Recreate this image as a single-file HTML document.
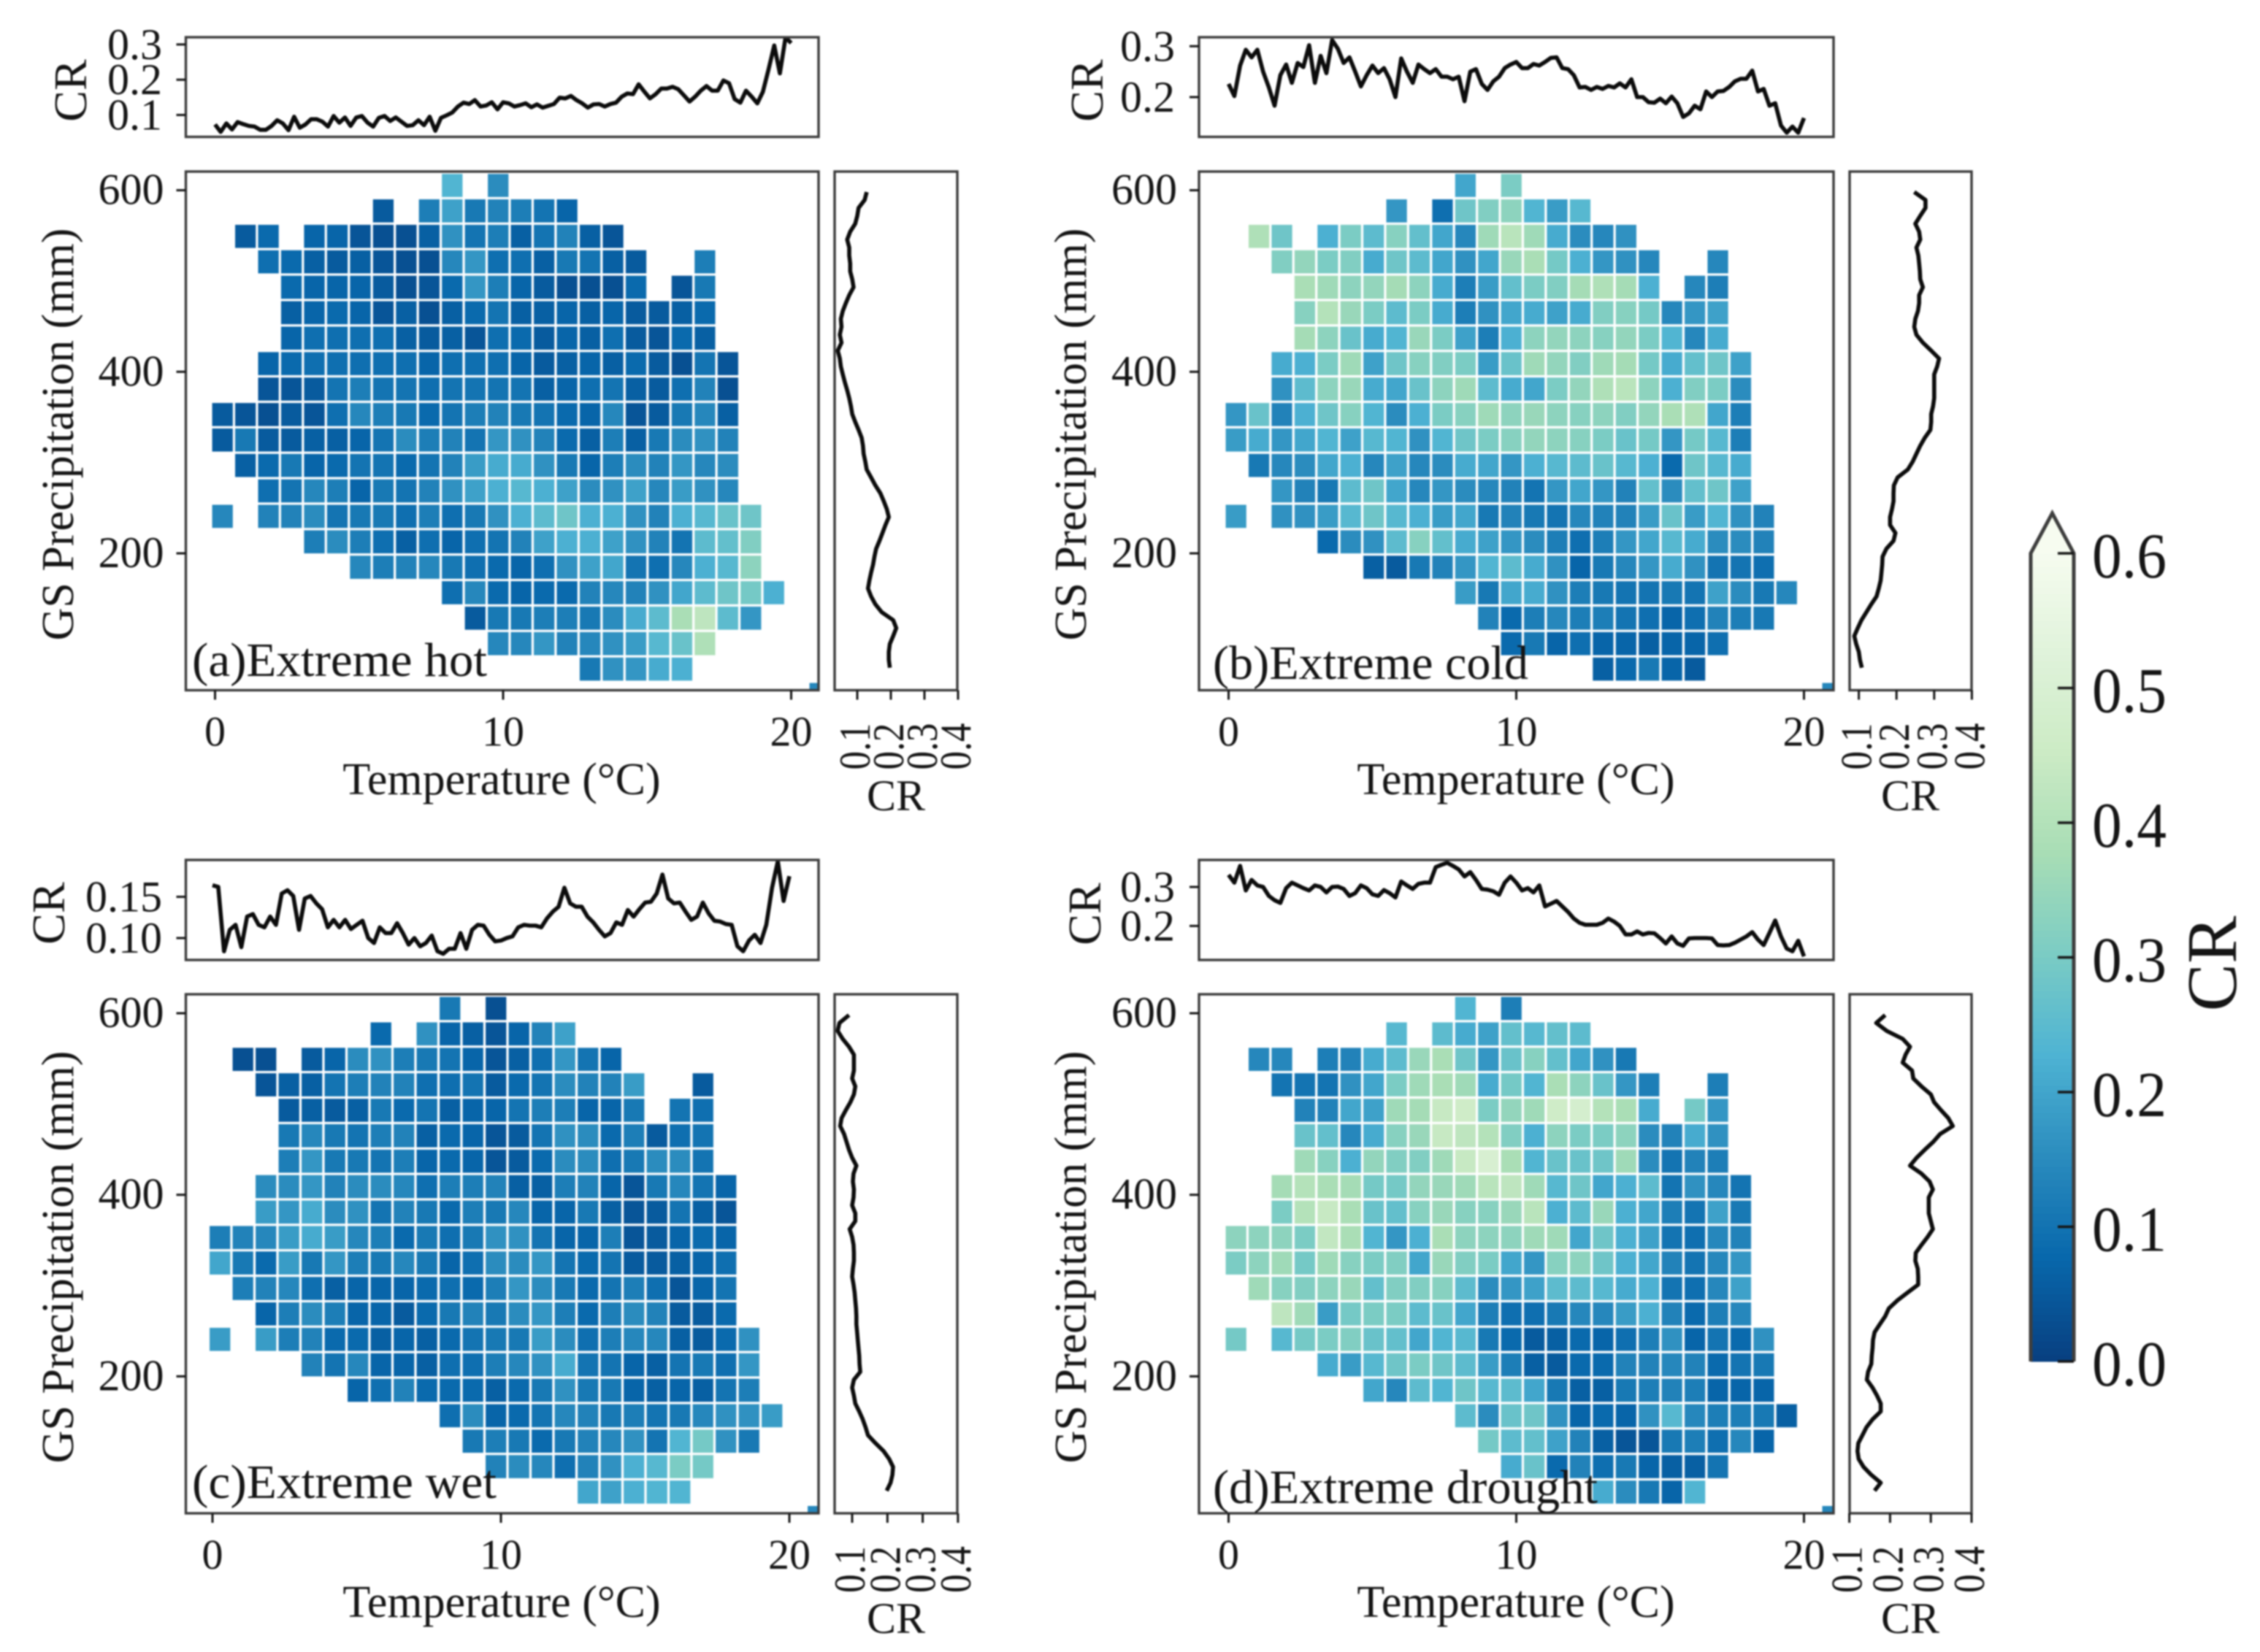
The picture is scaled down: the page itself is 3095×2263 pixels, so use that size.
<!DOCTYPE html>
<html lang="en">
<head>
<meta charset="utf-8">
<title>CR heatmaps under climate extremes</title>
<style>
html,body{margin:0;padding:0;background:#fff;}
svg{display:block;filter:blur(1.1px);}
text{font-family:"Liberation Serif",serif;fill:#151515;}
</style>
</head>
<body>
<svg id="figure" xmlns="http://www.w3.org/2000/svg" width="3095" height="2263" viewBox="0 0 3095 2263">
  <rect width="3095" height="2263" fill="#ffffff"/>
  <g id="panel-a">
    <g id="marks-a"></g>
    <text x="263" y="926" font-size="66" textLength="404" lengthAdjust="spacingAndGlyphs">(a)Extreme hot</text>
    <text x="687" y="1088" font-size="62" text-anchor="middle">Temperature (°C)</text>
    <text transform="translate(100,595) rotate(-90)" font-size="62" text-anchor="middle">GS Precipitation (mm)</text>
    <text transform="translate(118,124) rotate(-90)" font-size="64" text-anchor="middle">CR</text>
    <text x="1227" y="1110" font-size="60" text-anchor="middle">CR</text>
  </g>
  <g id="panel-b">
    <g id="marks-b"></g>
    <text x="1661" y="930" font-size="66" textLength="432" lengthAdjust="spacingAndGlyphs">(b)Extreme cold</text>
    <text x="2076" y="1088" font-size="62" text-anchor="middle">Temperature (°C)</text>
    <text transform="translate(1487,595) rotate(-90)" font-size="62" text-anchor="middle">GS Precipitation (mm)</text>
    <text transform="translate(1510,124) rotate(-90)" font-size="64" text-anchor="middle">CR</text>
    <text x="2616" y="1110" font-size="60" text-anchor="middle">CR</text>
  </g>
  <g id="panel-c">
    <g id="marks-c"></g>
    <text x="263" y="2052" font-size="66" textLength="417" lengthAdjust="spacingAndGlyphs">(c)Extreme wet</text>
    <text x="687" y="2215" font-size="62" text-anchor="middle">Temperature (°C)</text>
    <text transform="translate(100,1722) rotate(-90)" font-size="62" text-anchor="middle">GS Precipitation (mm)</text>
    <text transform="translate(88,1251) rotate(-90)" font-size="64" text-anchor="middle">CR</text>
    <text x="1227" y="2237" font-size="60" text-anchor="middle">CR</text>
  </g>
  <g id="panel-d">
    <g id="marks-d"></g>
    <text x="1661" y="2059" font-size="66" textLength="527" lengthAdjust="spacingAndGlyphs">(d)Extreme drought</text>
    <text x="2076" y="2215" font-size="62" text-anchor="middle">Temperature (°C)</text>
    <text transform="translate(1487,1722) rotate(-90)" font-size="62" text-anchor="middle">GS Precipitation (mm)</text>
    <text transform="translate(1507,1252) rotate(-90)" font-size="64" text-anchor="middle">CR</text>
    <text x="2616" y="2237" font-size="60" text-anchor="middle">CR</text>
  </g>
  <g id="colorbar">
    <g id="colorbar-marks"></g>
    <text transform="translate(3062,1320) rotate(-90)" font-size="98" text-anchor="middle">CR</text>
  </g>
</svg>
<script>
/* ---------- data: values ---------- */
const gnbuStops = ['#084081','#0868ac','#2b8cbe','#4eb3d3','#7bccc4','#a8ddb5','#ccebc5','#e0f3db','#f7fcf0'];
const colorMax = 0.6;
const colorbarTicks = ['0.0','0.1','0.2','0.3','0.4','0.5','0.6'];
const tempTicks = [0,10,20];
const precipTicks = [200,400,600];
const rightTicks = ['0.1','0.2','0.3','0.4'];
const topTicksA = ['0.1','0.2','0.3'];
const topTicksB = ['0.2','0.3'];
const topTicksC = ['0.10','0.15'];
const topTicksD = ['0.2','0.3'];

/* first temperature-bin index in each precipitation row */
const rowStart = [10,7,1,2,3,3,3,2,2,0,0,1,2,0,4,6,10,11,12,16,26];

/* CR x 100 per bin; 0 means an empty bin */
const heatA = [
[23,0,15],
[5,0,12,19,11,13,12,10,7],
[5,8,0,7,7,4,3,3,6,16,10,12,6,10,13,6,4],
[9,8,6,5,6,4,3,3,14,17,9,9,6,11,10,6,5,0,0,12],
[8,7,7,7,5,3,4,8,17,12,7,5,3,3,3,8,0,4,11],
[6,7,8,7,4,6,3,6,8,10,6,6,7,6,7,5,5,6,8],
[7,9,9,9,9,6,5,6,4,9,8,5,7,6,9,5,4,8,6],
[7,8,9,9,9,9,9,7,9,9,9,7,5,6,7,6,8,5,3,10,4],
[4,4,5,10,12,10,10,9,10,10,10,10,6,7,9,10,6,5,9,13,3],
[5,4,3,5,4,9,14,12,11,8,10,12,13,11,10,8,7,14,4,5,11,14,6],
[5,11,5,5,6,6,7,10,15,12,13,10,17,16,13,8,6,12,6,11,15,16,13],
[6,8,11,7,8,10,10,8,10,13,18,21,21,16,11,7,12,15,13,17,14,15],
[9,10,14,12,7,11,10,13,16,19,22,24,22,19,15,16,19,14,18,16,14],
[14,0,13,13,15,10,11,11,9,12,9,11,16,22,25,28,22,22,16,13,22,24,27,28],
[12,15,12,9,6,9,7,9,10,13,19,22,22,19,16,13,10,25,26,31],
[14,12,13,14,11,9,8,7,9,16,19,20,10,9,14,22,24,33],
[9,14,8,7,8,8,13,14,13,16,20,25,28,29,22],
[5,11,11,12,12,11,15,21,25,38,42,25,17],
[14,14,17,13,14,16,18,24,27,39],
[11,16,17,21,22],
[14]
];
const heatB = [
[20,0,30],
[17,0,9,28,31,33,23,18,24],
[39,28,0,22,30,25,32,26,20,14,36,41,36,21,15,14,16],
[31,34,30,31,21,28,25,20,16,20,35,38,29,22,17,16,14,0,0,14],
[38,36,33,34,37,33,21,12,18,26,30,31,37,39,37,22,0,14,12],
[32,40,35,30,25,30,21,12,16,20,21,19,21,31,32,29,14,17,19],
[37,33,27,21,23,35,30,19,12,22,33,34,33,32,34,30,23,14,21],
[21,22,30,36,19,28,32,31,30,18,27,36,34,31,36,37,29,21,26,28,19],
[16,25,33,35,21,20,27,33,36,25,21,20,30,34,39,41,33,22,31,30,15],
[17,27,13,22,28,32,23,15,22,30,32,36,33,35,33,32,33,31,34,38,39,20,12],
[18,21,17,20,23,19,24,23,16,23,28,30,32,34,33,32,30,27,29,17,29,24,12],
[11,14,15,20,22,14,19,14,15,21,20,17,22,24,25,27,24,22,8,28,24,21],
[17,13,11,25,28,20,14,17,15,14,13,10,17,20,17,13,26,15,26,28,19],
[18,0,16,16,18,24,28,24,22,18,20,11,13,11,10,14,13,13,18,27,18,23,16,13],
[8,15,16,25,32,26,21,19,17,15,12,9,12,17,20,24,21,15,15,13],
[6,5,11,13,17,23,25,21,16,7,11,14,17,21,16,10,10,9],
[18,11,20,21,16,12,11,10,10,11,10,19,15,11,14],
[13,8,12,14,12,12,10,9,7,9,13,12,11],
[8,11,7,9,7,7,6,7,7,9],
[6,8,11,7,5],
[14]
];
const heatC = [
[11,0,3],
[8,0,16,7,6,4,7,13,19],
[3,3,0,5,7,15,16,12,11,10,7,4,6,9,17,10,7],
[4,6,6,10,12,13,13,9,9,10,5,8,10,15,13,13,18,0,0,5],
[5,6,5,6,11,8,10,6,7,7,10,12,12,7,7,11,0,10,9],
[11,14,11,10,12,13,6,8,7,4,5,10,16,15,8,12,5,9,10],
[12,17,11,11,10,12,7,8,7,4,5,8,15,15,9,11,15,15,10],
[15,15,17,13,15,15,14,9,12,12,13,6,6,12,13,7,4,11,14,10,7],
[18,17,21,15,16,10,13,11,8,12,11,14,7,7,11,6,4,5,10,6,4],
[12,13,14,18,21,18,14,12,8,11,9,11,16,16,10,7,7,12,4,5,7,8,7],
[20,11,8,18,11,17,12,11,14,11,7,9,15,15,17,10,8,10,5,5,6,7,9],
[12,13,14,9,6,7,7,7,8,9,8,12,17,15,11,8,10,12,9,4,7,10],
[7,12,15,12,7,7,5,8,11,13,11,15,17,12,8,12,15,13,5,5,8],
[18,0,18,12,13,8,8,6,7,6,8,10,11,11,18,15,9,12,14,14,6,5,8,16],
[13,10,14,7,7,6,9,9,12,14,16,21,10,10,7,6,10,11,9,17],
[7,9,13,8,8,8,6,8,11,16,11,11,7,6,7,6,10,12],
[9,15,7,8,10,14,13,11,12,10,11,14,16,16,18],
[11,12,11,8,11,13,14,16,10,23,29,16,11],
[13,15,14,9,13,16,22,24,30,29],
[20,19,22,23,23],
[14]
];
const heatD = [
[23,0,12],
[24,0,25,21,19,26,24,26,25],
[14,14,0,12,13,21,25,35,38,28,17,27,32,26,20,16,11],
[10,10,10,16,20,30,36,38,36,21,29,23,38,33,27,17,12,0,0,12],
[13,13,20,19,36,37,44,46,30,34,36,46,48,40,38,21,0,29,17],
[27,26,14,21,32,35,44,42,40,31,22,33,30,30,33,15,13,21,16],
[36,32,22,34,31,31,36,44,49,38,23,27,27,28,36,15,10,13,12],
[37,40,38,37,29,29,34,35,36,41,42,36,24,28,20,22,25,10,16,14,10],
[30,40,44,38,27,26,32,35,32,32,35,41,22,25,35,22,20,12,10,19,11],
[33,33,33,30,43,38,23,17,22,38,33,33,33,36,36,20,28,22,19,10,9,14,13],
[30,33,36,29,36,32,30,31,20,35,31,30,20,17,32,33,28,22,20,13,10,14,17],
[36,32,31,33,35,26,31,31,32,25,15,17,19,25,25,24,21,22,10,9,14,19],
[42,36,18,29,30,30,25,27,20,12,9,9,11,14,14,18,22,13,8,12,14],
[29,0,24,29,30,31,27,26,20,23,24,11,8,5,6,8,7,9,12,16,7,10,8,16],
[21,18,24,28,30,28,25,18,12,6,5,8,8,13,13,14,13,8,10,11],
[20,14,25,23,28,24,25,20,11,6,6,11,12,13,12,7,7,7],
[25,15,27,28,16,7,8,7,16,24,14,12,12,11,6],
[29,25,26,19,13,6,4,4,11,12,9,14,7],
[21,27,8,13,9,11,7,6,6,10],
[21,15,11,7,23],
[14]
];

/* mean CR along temperature (evenly spaced 0-20 degC) */
const topCrA = [.073,.052,.076,.059,.08,.074,.069,.067,.058,.058,.069,.085,.076,.057,.095,.064,.073,.088,.088,.081,.067,.097,.078,.093,.069,.093,.097,.078,.067,.092,.097,.083,.093,.081,.069,.071,.085,.071,.095,.055,.092,.099,.107,.124,.135,.131,.142,.124,.127,.136,.116,.136,.133,.124,.128,.133,.122,.13,.121,.126,.131,.149,.147,.154,.142,.133,.121,.13,.131,.124,.131,.135,.152,.161,.159,.187,.166,.147,.159,.175,.175,.18,.173,.156,.138,.152,.169,.182,.169,.169,.198,.19,.145,.135,.169,.152,.133,.166,.23,.297,.218,.32,.304];
const topCrB = [.226,.202,.262,.293,.278,.293,.25,.219,.183,.243,.264,.228,.267,.259,.302,.228,.281,.247,.312,.295,.267,.278,.25,.221,.243,.262,.247,.257,.235,.2,.276,.25,.228,.264,.255,.247,.255,.24,.24,.235,.24,.192,.25,.255,.226,.214,.231,.24,.257,.264,.269,.257,.257,.265,.262,.269,.277,.278,.257,.255,.243,.219,.22,.214,.22,.216,.222,.219,.227,.219,.235,.2,.2,.19,.189,.197,.188,.201,.188,.161,.168,.183,.176,.211,.2,.211,.212,.22,.231,.236,.236,.252,.211,.216,.183,.188,.144,.13,.142,.13,.159];
const topCrC = [.164,.162,.084,.11,.116,.089,.126,.129,.116,.113,.126,.116,.154,.158,.151,.11,.148,.151,.142,.135,.113,.122,.113,.122,.111,.116,.121,.10,.094,.113,.106,.106,.118,.106,.092,.10,.09,.094,.103,.084,.081,.087,.087,.106,.087,.11,.116,.115,.104,.096,.097,.10,.102,.113,.116,.115,.115,.113,.124,.132,.138,.161,.142,.138,.138,.126,.119,.11,.102,.106,.119,.116,.134,.126,.135,.143,.144,.154,.177,.148,.142,.143,.132,.122,.126,.143,.13,.121,.12,.117,.116,.09,.084,.097,.104,.094,.116,.161,.193,.145,.175];
const topCrD = [.331,.311,.354,.291,.318,.304,.3,.277,.266,.259,.297,.311,.304,.297,.291,.304,.3,.286,.3,.301,.295,.277,.284,.304,.297,.281,.277,.292,.284,.273,.314,.304,.295,.308,.311,.311,.351,.357,.362,.354,.345,.327,.338,.318,.295,.293,.289,.28,.311,.327,.311,.291,.297,.286,.304,.25,.257,.264,.25,.236,.219,.208,.203,.203,.203,.208,.219,.211,.2,.178,.178,.186,.178,.182,.181,.169,.155,.173,.155,.149,.168,.169,.169,.169,.168,.151,.15,.151,.157,.165,.173,.184,.165,.151,.182,.214,.173,.142,.135,.162,.122];

/* mean CR along precipitation (evenly spaced, 598 down to 74 mm) */
const rightCrA = [.128,.122,.104,.1,.094,.079,.07,.076,.076,.079,.079,.085,.089,.076,.066,.057,.051,.053,.048,.053,.042,.048,.051,.057,.063,.07,.076,.081,.085,.094,.104,.113,.117,.119,.124,.128,.141,.154,.169,.179,.188,.194,.184,.175,.166,.156,.151,.147,.141,.136,.132,.141,.154,.173,.207,.216,.207,.197,.194,.194,.197];
const rightCrB = [.247,.277,.277,.263,.25,.26,.263,.253,.258,.26,.262,.263,.27,.26,.26,.257,.25,.247,.253,.27,.292,.313,.308,.3,.3,.3,.3,.297,.292,.292,.29,.275,.263,.253,.243,.23,.203,.193,.192,.192,.188,.183,.183,.197,.192,.173,.163,.162,.16,.158,.153,.147,.133,.12,.107,.097,.088,.093,.1,.103,.108];
const rightCrC = [.091,.064,.059,.073,.091,.105,.105,.105,.1,.109,.105,.095,.082,.07,.066,.077,.084,.091,.1,.112,.104,.102,.105,.104,.1,.109,.109,.093,.1,.104,.105,.105,.102,.1,.104,.107,.109,.111,.112,.112,.114,.116,.118,.12,.121,.123,.105,.1,.105,.109,.12,.13,.138,.145,.166,.189,.205,.216,.214,.209,.198];
const rightCrD = [.188,.166,.192,.231,.249,.238,.231,.254,.257,.277,.3,.308,.325,.343,.354,.323,.306,.285,.265,.249,.277,.297,.305,.295,.295,.295,.3,.305,.292,.277,.263,.262,.268,.269,.269,.243,.218,.197,.188,.175,.162,.158,.157,.155,.154,.146,.143,.157,.168,.177,.177,.157,.142,.132,.122,.12,.123,.135,.154,.177,.162];

/* ---------- layout ---------- */
const NS = 'http://www.w3.org/2000/svg';
const INK = '#161616';
const FRAME = '#3c3c3c';
const binTemp0 = -0.1, binTempW = 0.7975, binPrecip0 = 618, binPrecipH = 28.04;
const profileP0 = 598, profileP1 = 74;
const panelLayouts = [
  {key:'a', heat:heatA, top:topCrA, right:rightCrA, topTicks:topTicksA, axL:254.5, axR:1121, mainT:235, mainB:945.5, topT:51, topB:187.5, rL:1143, rR:1311, t0:294.5, tPx:39.45, p600:260.6, pPx:1.2435, topRefV:.1, topRefY:157.5, topPx:483, rRefX:1174, rPx:460, topLabelX:222},
  {key:'b', heat:heatB, top:topCrB, right:rightCrB, topTicks:topTicksB, axL:1642, axR:2511, mainT:235, mainB:945.5, topT:51, topB:187.5, rL:2533, rR:2700, t0:1682.5, tPx:39.4, p600:260.6, pPx:1.2435, topRefV:.2, topRefY:133, topPx:697, rRefX:2545.6, rPx:516, topLabelX:1609},
  {key:'c', heat:heatC, top:topCrC, right:rightCrC, topTicks:topTicksC, axL:254.5, axR:1121, mainT:1362, mainB:2073, topT:1178, topB:1315, rL:1143, rR:1311, t0:291, tPx:39.5, p600:1388, pPx:1.2435, topRefV:.1, topRefY:1285, topPx:1130, rRefX:1167, rPx:483, topLabelX:222},
  {key:'d', heat:heatD, top:topCrD, right:rightCrD, topTicks:topTicksD, axL:1642, axR:2511, mainT:1362, mainB:2073, topT:1178, topB:1315, rL:2533, rR:2700, t0:1682.5, tPx:39.4, p600:1388, pPx:1.2435, topRefV:.2, topRefY:1268.4, topPx:534, rRefX:2532.6, rPx:558, topLabelX:1609}
];

function hexRgb(h){return [parseInt(h.slice(1,3),16),parseInt(h.slice(3,5),16),parseInt(h.slice(5,7),16)];}
function crColor(v){
  const t = Math.max(0,Math.min(1,v/colorMax))*(gnbuStops.length-1);
  const i = Math.min(Math.floor(t),gnbuStops.length-2), f = t-i;
  const a = hexRgb(gnbuStops[i]), b = hexRgb(gnbuStops[i+1]);
  return 'rgb('+a.map((c,k)=>Math.round(c+(b[k]-c)*f)).join(',')+')';
}
function mk(tag,parent){const e=document.createElementNS(NS,tag);parent.appendChild(e);return e;}
function setAttrs(e,o){for(const k in o){e.setAttribute(k,o[k]);}return e;}
function tickMark(parent,x1,y1,x2,y2,w){
  const t = mk('line',parent);
  
  
  setAttrs(t,{x1:x1,y1:y1,x2:x2,y2:y2,stroke:INK,'stroke-width':w});
}
function frame(parent,x,y,w,h,name){
  const r = mk('rect',parent);
  
  
  setAttrs(r,{x:x,y:y,width:w,height:h,fill:'none',stroke:FRAME,'stroke-width':3.4});
}
function tickText(parent,txt,attrs){
  const t = mk('text',parent);
  
  
  setAttrs(t,attrs);
  t.textContent = txt;
}
function clip(defsParent,id,x,y,w,h){
  const c = mk('clipPath',defsParent);
  c.setAttribute('id',id);
  setAttrs(mk('rect',c),{x:x,y:y,width:w,height:h});
}

const root = document.getElementById('figure');
const defs = mk('defs',root);

panelLayouts.forEach(function(p){
  const g = document.getElementById('marks-'+p.key);
  const xT = function(t){return p.t0+t*p.tPx;};
  const yP = function(v){return p.p600+(600-v)*p.pPx;};
  const yTop = function(v){return p.topRefY-(v-p.topRefV)*p.topPx;};
  const xRight = function(v){return p.rRefX+(v-0.1)*p.rPx;};
  clip(defs,'clip-main-'+p.key,p.axL,p.mainT,p.axR-p.axL,p.mainB-p.mainT);
  clip(defs,'clip-top-'+p.key,p.axL,p.topT,p.axR-p.axL,p.topB-p.topT);

  const cells = mk('g',g);
  
  
  cells.setAttribute('clip-path','url(#clip-main-'+p.key+')');
  p.heat.forEach(function(row,r){
    row.forEach(function(v,k){
      if(!v){return;}
      const c = rowStart[r]+k;
      const left = xT(binTemp0+c*binTempW), right = xT(binTemp0+(c+1)*binTempW);
      const top = yP(binPrecip0-r*binPrecipH), bottom = yP(binPrecip0-(r+1)*binPrecipH);
      const cell = mk('rect',cells);
      
      
      setAttrs(cell,{x:left,y:top,width:right-left-3.2,height:bottom-top-3.2,fill:crColor(v/100)});
    });
  });

  /* top profile */
  const topPts = p.top.map(function(v,i){return xT(20*i/(p.top.length-1)).toFixed(1)+','+yTop(v).toFixed(1);}).join(' ');
  const topLine = mk('polyline',g);
  
  
  setAttrs(topLine,{points:topPts,fill:'none',stroke:'#0c0c0c','stroke-width':5.6,'stroke-linejoin':'round','clip-path':'url(#clip-top-'+p.key+')'});

  /* right profile */
  const rightPts = p.right.map(function(v,i){
    const pv = profileP0+(profileP1-profileP0)*i/(p.right.length-1);
    return xRight(v).toFixed(1)+','+yP(pv).toFixed(1);
  }).join(' ');
  const rightLine = mk('polyline',g);
  
  
  setAttrs(rightLine,{points:rightPts,fill:'none',stroke:'#0c0c0c','stroke-width':5.6,'stroke-linejoin':'round'});

  /* frames */
  frame(g,p.axL,p.mainT,p.axR-p.axL,p.mainB-p.mainT,'main-axes-frame');
  frame(g,p.axL,p.topT,p.axR-p.axL,p.topB-p.topT,'top-axes-frame');
  frame(g,p.rL,p.mainT,p.rR-p.rL,p.mainB-p.mainT,'right-axes-frame');

  /* axes */
  tempTicks.forEach(function(t){
    tickMark(g,xT(t),p.mainB,xT(t),p.mainB+13,3);
    tickText(g,String(t),{x:xT(t),y:p.mainB+76,'font-size':58,'text-anchor':'middle'});
  });
  precipTicks.forEach(function(v){
    tickMark(g,p.axL,yP(v),p.axL-13,yP(v),3);
    tickText(g,String(v),{x:p.axL-30,y:yP(v)+19,'font-size':60,'text-anchor':'end'});
  });
  p.topTicks.forEach(function(s){
    const y = yTop(parseFloat(s));
    tickMark(g,p.axL,y,p.axL-13,y,3);
    tickText(g,s,{x:p.topLabelX,y:y+20,'font-size':60,'text-anchor':'end'});
  });
  rightTicks.forEach(function(s){
    const x = xRight(parseFloat(s));
    tickMark(g,x,p.mainB,x,p.mainB+13,3);
    tickText(g,s,{transform:'translate('+(x+17)+','+(p.mainB+45)+') rotate(-90)','font-size':60,'text-anchor':'end',textLength:64,lengthAdjust:'spacingAndGlyphs'});
  });
});

/* colorbar */
(function(){
  const g = document.getElementById('colorbar-marks');
  const L = 2781, R = 2840, Y0 = 1865, Y1 = 758, TIP = 703;
  const yC = function(v){return Y0-(v/colorMax)*(Y0-Y1);};
  for(let i=0;i<=120;i++){
    const v = colorMax*i/120;
    const s = mk('rect',g);
    
    
    setAttrs(s,{x:L,y:yC(v)-(Y0-Y1)/120-0.5,width:R-L,height:(Y0-Y1)/120+1,fill:crColor(v)});
  }
  const tip = mk('polygon',g);
  
  
  setAttrs(tip,{points:L+','+Y1+' '+((L+R)/2)+','+TIP+' '+R+','+Y1,fill:gnbuStops[8]});
  const out = mk('path',g);
  
  
  setAttrs(out,{d:'M'+L+' '+Y0+' L'+L+' '+Y1+' L'+((L+R)/2)+' '+TIP+' L'+R+' '+Y1+' L'+R+' '+Y0,fill:'none',stroke:'#3e3e3e','stroke-width':5});
  colorbarTicks.forEach(function(s){
    const y = yC(parseFloat(s));
    tickMark(g,R,y,R-22,y,3.4);
    tickText(g,s,{x:2865,y:y+33,'font-size':88,textLength:102,lengthAdjust:'spacingAndGlyphs'});
  });
})();
</script>
</body>
</html>
